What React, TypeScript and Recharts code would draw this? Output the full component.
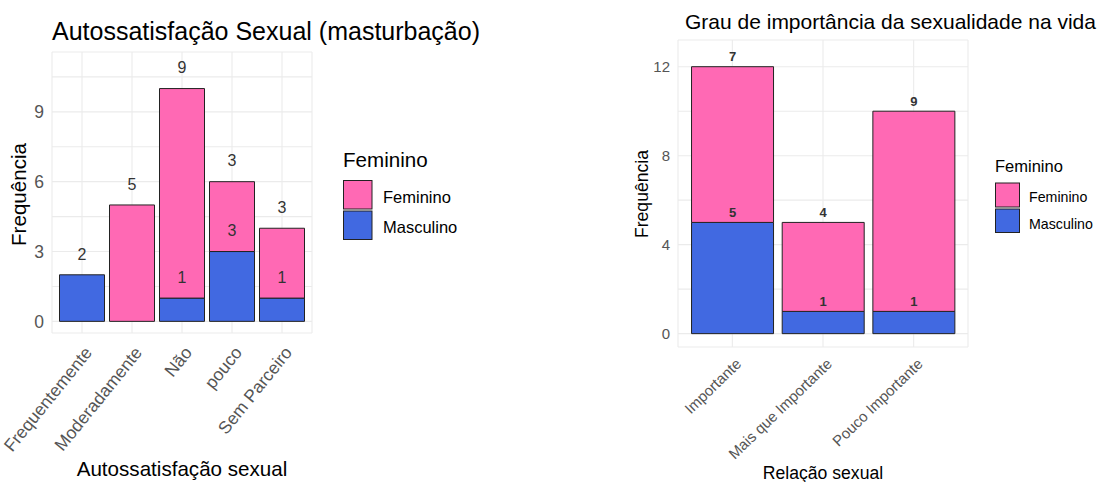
import { BarChart, Bar, XAxis, YAxis, CartesianGrid, LabelList } from 'recharts'

// Autossatisfação sexual (left panel)
const autoCats = ['Frequentemente', 'Moderadamente', 'Não', 'pouco', 'Sem Parceiro']
const autoMasc = [2, 0, 1, 3, 1]
const autoFem = [0, 5, 9, 3, 3]
const autoGridTicks = [0, 1.5, 3, 4.5, 6, 7.5, 9, 10.5]
const autoLabelTicks = [0, 3, 6, 9]

// Grau de importância (right panel)
const impCats = ['Importante', 'Mais que Importante', 'Pouco Importante']
const impMasc = [5, 1, 1]
const impFem = [7, 4, 9]
const impGridTicks = [0, 2, 4, 6, 8, 10, 12]
const impLabelTicks = [0, 4, 8, 12]

const PINK = '#FF69B4'
const BLUE = '#4169E1'
const EDGE = '#222222'
const FONT = '"Liberation Sans", Arial, sans-serif'

const autoData = autoCats.map((cat, i) => ({ cat, Masculino: autoMasc[i], Feminino: autoFem[i] }))
const impData = impCats.map((cat, i) => ({ cat, Masculino: impMasc[i], Feminino: impFem[i] }))

function barLabel(offset: number, size: number, bold: boolean) {
  return (props: any) => {
    const { x, y, width, value } = props
    if (!value) return null
    return (
      <text
        x={Number(x) + Number(width) / 2}
        y={Number(y) - offset + size * 0.36}
        textAnchor="middle"
        fontSize={size}
        fontWeight={bold ? 700 : 400}
        fill="#333"
        fontFamily={FONT}
      >
        {value}
      </text>
    )
  }
}

function rotTick(size: number, dx: number, dy: number, angle: number) {
  return (props: any) => {
    const { x, y, payload } = props
    const tx = x + dx
    const ty = y + dy
    return (
      <text
        x={tx}
        y={ty}
        transform={`rotate(${-angle} ${tx} ${ty})`}
        textAnchor="end"
        fontSize={size}
        fill="#555"
        fontFamily={FONT}
      >
        {payload.value}
      </text>
    )
  }
}

export default function App() {
  return (
    <div style={{ position: 'absolute', left: 0, top: 0, width: 1100, height: 482, background: '#fff', fontFamily: FONT }}>
      <div style={{ position: 'absolute', left: 0, top: 0 }}>
        <BarChart width={330} height={482} data={autoData} margin={{ top: 52, right: 18, bottom: 0, left: 0 }} barCategoryGap="5%">
          <CartesianGrid stroke="#ebebeb" strokeWidth={1.1} />
          <XAxis
            dataKey="cat"
            height={149}
            padding={{ left: 5, right: 5 }}
            axisLine={false}
            tickLine={false}
            interval={0}
            tick={rotTick(17.5, 11, 12, 51)}
          />
          <YAxis
            width={52}
            type="number"
            domain={[-0.5, 11.57]}
            allowDataOverflow
            ticks={autoGridTicks}
            tickFormatter={(v: number) => (autoLabelTicks.includes(v) ? String(v) : '')}
            axisLine={false}
            tickLine={false}
            tick={{ fill: '#555', fontSize: 17.5, fontFamily: FONT }}
          />
          <Bar dataKey="Masculino" stackId="a" fill={BLUE} stroke={EDGE} strokeWidth={1} isAnimationActive={false}>
            <LabelList dataKey="Masculino" content={barLabel(21, 16, false)} />
          </Bar>
          <Bar dataKey="Feminino" stackId="a" fill={PINK} stroke={EDGE} strokeWidth={1} isAnimationActive={false}>
            <LabelList dataKey="Feminino" content={barLabel(21, 16, false)} />
          </Bar>
        </BarChart>
      </div>

      <div style={{ position: 'absolute', left: 600, top: 0 }}>
        <BarChart width={500} height={482} data={impData} margin={{ top: 40, right: 132, bottom: 0, left: 0 }} barCategoryGap="5%">
          <CartesianGrid stroke="#ebebeb" strokeWidth={1.1} />
          <XAxis
            dataKey="cat"
            height={135}
            padding={{ left: 9, right: 9 }}
            axisLine={false}
            tickLine={false}
            interval={0}
            tick={rotTick(15, 10, 10, 44)}
          />
          <YAxis
            width={78}
            type="number"
            domain={[-0.6, 13.2]}
            allowDataOverflow
            ticks={impGridTicks}
            tickFormatter={(v: number) => (impLabelTicks.includes(v) ? String(v) : '')}
            axisLine={false}
            tickLine={false}
            tick={{ fill: '#555', fontSize: 15, fontFamily: FONT }}
          />
          <Bar dataKey="Masculino" stackId="a" fill={BLUE} stroke={EDGE} strokeWidth={1} isAnimationActive={false}>
            <LabelList dataKey="Masculino" content={barLabel(10, 13, true)} />
          </Bar>
          <Bar dataKey="Feminino" stackId="a" fill={PINK} stroke={EDGE} strokeWidth={1} isAnimationActive={false}>
            <LabelList dataKey="Feminino" content={barLabel(10, 13, true)} />
          </Bar>
        </BarChart>
      </div>

      <svg width={1100} height={482} style={{ position: 'absolute', left: 0, top: 0, pointerEvents: 'none' }} fontFamily={FONT}>
        {/* left panel texts */}
        <text x={52} y={39.5} fontSize={25} fill="#000">Autossatisfação Sexual (masturbação)</text>
        <text x={182} y={476} fontSize={20.6} fill="#000" textAnchor="middle">Autossatisfação sexual</text>
        <text x={26.4} y={194.5} fontSize={20.6} fill="#000" textAnchor="middle" transform="rotate(-90 26.4 194.5)">Frequência</text>
        <text x={343} y={166.5} fontSize={20.6} fill="#000">Feminino</text>
        <rect x={343.5} y={180.5} width={28.5} height={28.5} fill={PINK} stroke={EDGE} />
        <rect x={343.5} y={211} width={28.5} height={28.5} fill={BLUE} stroke={EDGE} />
        <text x={383} y={203.3} fontSize={16.5} fill="#000">Feminino</text>
        <text x={383} y={233.3} fontSize={16.5} fill="#000">Masculino</text>

        {/* right panel texts */}
        <text x={685} y={29.3} fontSize={21} fill="#000">Grau de importância da sexualidade na vida</text>
        <text x={823} y={479} fontSize={17.6} fill="#000" textAnchor="middle">Relação sexual</text>
        <text x={647.6} y={194} fontSize={17.6} fill="#000" textAnchor="middle" transform="rotate(-90 647.6 194)">Frequência</text>
        <text x={995} y={171.7} fontSize={16.5} fill="#000">Feminino</text>
        <rect x={995.5} y={183} width={24} height={24} fill={PINK} stroke={EDGE} />
        <rect x={995.5} y={209} width={24} height={23.5} fill={BLUE} stroke={EDGE} />
        <text x={1029} y={201.5} fontSize={14.2} fill="#000">Feminino</text>
        <text x={1029} y={229.3} fontSize={14.2} fill="#000">Masculino</text>
      </svg>
    </div>
  )
}
